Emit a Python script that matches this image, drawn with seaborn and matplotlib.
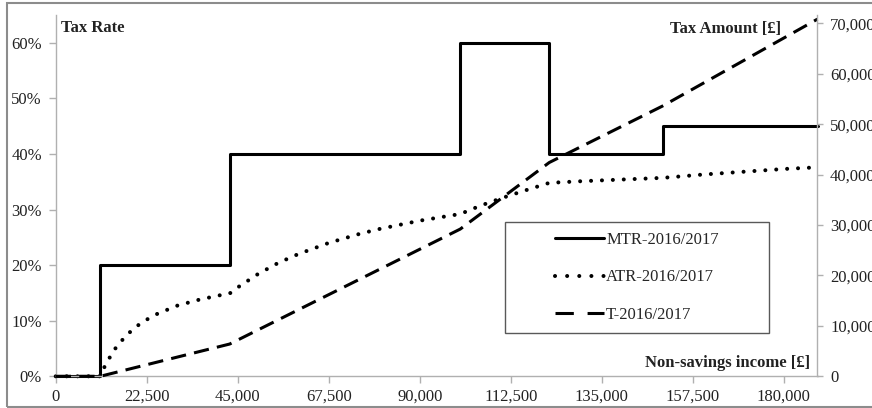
import matplotlib
matplotlib.use('Agg')
import matplotlib.pyplot as plt
import seaborn as sns
from matplotlib.patches import Rectangle
from matplotlib.lines import Line2D

sns.set_theme(style='white')
plt.rcParams['font.family'] = ['Liberation Serif', 'DejaVu Serif']

# marginal tax rate (step function)
mtr_income = [0, 11000, 43000, 100000, 122000, 150000, 188300]
mtr_rate = [0.0, 0.20, 0.40, 0.60, 0.40, 0.45, 0.45]

# average tax rate
atr_income = [0, 11000, 12500, 15000, 17500, 20000, 22500, 25000, 30000, 35000,
              40000, 43000, 45000, 50000, 55000, 60000, 67500, 75000, 80000, 90000,
              100000, 105000, 110000, 115000, 122000, 130000, 140000, 150000,
              160000, 170000, 180000, 188300]
atr_rate = [0.0, 0.0, 0.024, 0.053, 0.074, 0.090, 0.102, 0.112, 0.127, 0.137,
            0.145, 0.149, 0.160, 0.184, 0.204, 0.220, 0.240, 0.256, 0.265, 0.280,
            0.292, 0.307, 0.320, 0.332, 0.348, 0.351, 0.354, 0.357,
            0.363, 0.368, 0.373, 0.376]

# tax amount [GBP]
tax_income = [0, 11000, 43000, 100000, 122000, 150000, 188300]
tax_amount = [0, 0, 6400, 29200, 42400, 53600, 70835]

labels = ['MTR-2016/2017', 'ATR-2016/2017', 'T-2016/2017']
xticks = [0, 22500, 45000, 67500, 90000, 112500, 135000, 157500, 180000]
yticks_left = [0, 0.1, 0.2, 0.3, 0.4, 0.5, 0.6]
yticks_right = [0, 10000, 20000, 30000, 40000, 50000, 60000, 70000]

fig = plt.figure(figsize=(8.72, 4.08), dpi=100)
ax = fig.add_axes([0.0639, 0.0777, 0.8736, 0.8855])
ax2 = ax.twinx()

sns.lineplot(x=mtr_income, y=mtr_rate, ax=ax, color='black', linewidth=2.2,
             drawstyle='steps-post', legend=False, clip_on=False)
sns.lineplot(x=atr_income, y=atr_rate, ax=ax, color='black', linewidth=2.9,
             linestyle=(0, (0.01, 2.7)), dash_capstyle='round',
             legend=False, clip_on=False)
sns.lineplot(x=tax_income, y=tax_amount, ax=ax2, color='black', linewidth=2.2,
             linestyle=(0, (5, 2.7)), legend=False, clip_on=False)

ax.set_xlim(0, 188300)
ax.set_ylim(0, 0.65)
ax2.set_ylim(0, 71650)

tick_col = '#222222'
spine_col = '#b0b0b0'
ax.set_xticks(xticks)
ax.set_xticklabels([f'{v:,}' for v in xticks])
ax.set_yticks(yticks_left)
ax.set_yticklabels([f'{int(round(v * 100))}%' for v in yticks_left])
ax2.set_yticks(yticks_right)
ax2.set_yticklabels([f'{v:,}' for v in yticks_right])

for a in (ax, ax2):
    for s in a.spines.values():
        s.set_color(spine_col)
        s.set_linewidth(1.0)
    a.spines['top'].set_visible(False)
    a.set_xlabel('')
    a.set_ylabel('')
ax.spines['right'].set_visible(False)
ax2.spines['left'].set_visible(False)
ax2.spines['bottom'].set_visible(False)

ax.tick_params(axis='x', direction='out', length=5, width=1, color=spine_col,
               labelsize=12, labelcolor=tick_col, pad=4, bottom=True)
ax.tick_params(axis='y', direction='out', length=5, width=1, color=spine_col,
               labelsize=12, labelcolor=tick_col, pad=5, left=True)
ax2.tick_params(axis='y', direction='out', length=4, width=1, color=spine_col,
                labelsize=12, labelcolor=tick_col, pad=5, right=True)

ax.text(0.007, 0.964, 'Tax Rate', transform=ax.transAxes, fontsize=12,
        fontweight='bold', ha='left', va='center', color=tick_col)
ax2.text(0.952, 0.961, 'Tax Amount [£]', transform=ax.transAxes, fontsize=12,
         fontweight='bold', ha='right', va='center', color=tick_col)
ax2.text(0.990, 0.037, 'Non-savings income [£]', transform=ax.transAxes, fontsize=12,
         fontweight='bold', ha='right', va='center', color=tick_col)

# legend handles with the same look as the series, spaced like the original
handles = [
    Line2D([], [], color='black', linewidth=2.2),
    Line2D([], [], color='black', linewidth=2.9, linestyle=(0, (0.01, 3.0)),
           dash_capstyle='round'),
    Line2D([], [], color='black', linewidth=2.2, linestyle=(0, (6, 4.5))),
]
fig.legend(handles, labels, loc='center', bbox_to_anchor=(0.7305, 0.3199),
           bbox_transform=fig.transFigure, frameon=False, fontsize=12,
           handlelength=2.9, handletextpad=0.15, labelspacing=1.3)
fig.patches.append(Rectangle((0.5791, 0.1838), 0.3028, 0.2721, transform=fig.transFigure,
                             fill=False, edgecolor='#595959', linewidth=1.0))

# outer chart border
fig.patches.append(Rectangle((0.0084, 0.002), 1.2, 0.99, transform=fig.transFigure,
                             fill=False, edgecolor='#8c8c8c', linewidth=1.5))

plt.savefig('out.png', dpi=100)
